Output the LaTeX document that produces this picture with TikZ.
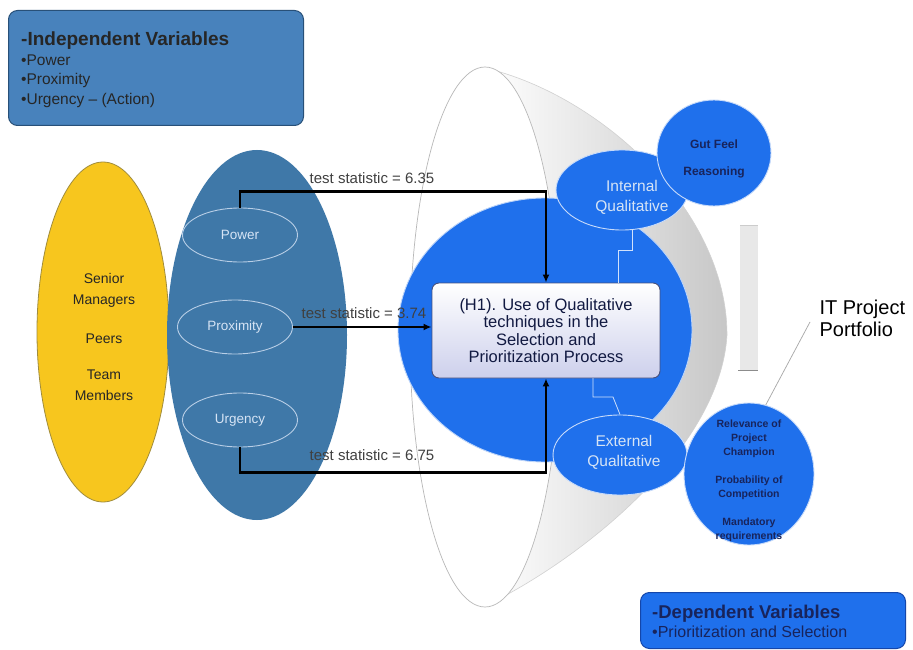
\documentclass[tikz,border=0pt]{standalone}
\usepackage{fontspec}
\setmainfont{Liberation Sans}
\usetikzlibrary{shapes.geometric,arrows.meta,calc}

\definecolor{steel}{RGB}{63,120,168}
\definecolor{indfill}{RGB}{72,130,188}
\definecolor{indline}{RGB}{40,80,120}
\definecolor{vivid}{RGB}{31,112,236}
\definecolor{vividline}{RGB}{20,70,170}
\definecolor{gold}{RGB}{247,198,30}
\definecolor{goldline}{RGB}{160,140,60}
\definecolor{navy}{RGB}{24,36,92}
\definecolor{paletxt}{RGB}{214,228,245}

\tikzset{
  fs/.style 2 args={font=\fontsize{#1}{#2}\selectfont},
  varbox/.style={rounded corners=9pt, line width=1pt, anchor=north west},
  oval/.style={ellipse, inner sep=0pt},
  inneroval/.style={oval, draw=paletxt!80!steel, line width=0.9pt, text=paletxt, fs={13.5}{15}},
  bluedisc/.style={oval, fill=vivid, draw=white!75!vivid, line width=0.9pt, align=center},
  conn/.style={line width=2.2pt, -{Latex[length=8pt,width=7pt]}},
  stat/.style={fs={15}{17}, text=black!75, inner sep=1pt},
  stair/.style={white!80!vivid, line width=0.8pt}
}

\begin{document}
\begin{tikzpicture}[x=1pt,y=-1pt]
\useasboundingbox (0,0) rectangle (913,650);
\fill[white] (0,0) rectangle (913,650);

% funnel body with its rounded far end, and the spout beyond it
\shade[left color=white, right color=black!22, draw=black!18, line width=0.6pt]
  (485,68) .. controls (600,95) and (727,210) .. (727,335)
  .. controls (720,450) and (580,560) .. (485,606) -- cycle;
\fill[black!9] (740,225) rectangle (758,370);
\draw[black!45, line width=1pt] (738,370) -- (758,370);
\draw[black!20, line width=0.6pt] (740,225) -- (758,225);

% funnel mouth
\draw[black!28, fill=white, line width=0.7pt] (485,337) ellipse (75 and 270);

% callout line to the portfolio label
\coordinate (calltip) at (762,412);
\node[fs={20}{22}, align=left, anchor=west] (portfolio) at (816,318) {IT Project\\Portfolio};
\draw[black!35, line width=0.7pt] ($(portfolio.west)+(-6,4)$) -- (calltip);

% central process
\node[oval, fill=vivid, draw=white!70!vivid, line width=0.9pt,
      minimum width=294, minimum height=264] (core) at (545,330) {};

\node[bluedisc, minimum width=132, minimum height=80] (intq) at (622,190) {};
\node[text=paletxt, fs={15.5}{20}, align=center] (intqtxt) at (632,197) {Internal\\Qualitative};
\node[bluedisc, minimum width=114, minimum height=106] (gut) at (714,153) {};
\node[text=navy, fs={12}{27}, align=center] (guttxt) at (714,159)
  {\bfseries Gut Feel\\\bfseries Reasoning};

\node[bluedisc, minimum width=134, minimum height=80] (extq) at (620,455) {};
\node[text=paletxt, fs={15.5}{20}, align=center] (extqtxt) at (624,452) {External\\Qualitative};
\node[bluedisc, minimum width=130, minimum height=142] (ext) at (749,474) {};
\node[text=navy, fs={10.5}{13.8}, align=center] (exttxt) at (749,481)
  {\bfseries Relevance of\\\bfseries Project\\\bfseries Champion\\[14.5pt]
   \bfseries Probability of\\\bfseries Competition\\[14.5pt]
   \bfseries Mandatory\\\bfseries requirements};

% hypothesis box
\node[rounded corners=7pt, draw=navy!80, line width=0.9pt,
      top color=white, bottom color={rgb,255:red,205;green,208;blue,236},
      minimum width=228, minimum height=95, align=center, text=navy!70!black,
      fs={16.5}{17.5}] (h1) at (546,330.5)
  {(H1). Use of Qualitative\\techniques in the\\Selection and\\Prioritization Process};

% stepped links between the qualitative groups and the box
\draw[stair] (632,229) -- (632,250) -- (618,250) -- (618,283);
\draw[stair] (593,378) -- (593,397) -- (613,397) -- (extq.north);

% stakeholder groups
\node[oval, fill=gold, draw=goldline, line width=0.8pt,
      minimum width=132, minimum height=340] (groups) at (103,332) {};
\node[fs={14}{21}, align=center, text=black!85] (grouptxt) at (104,337)
  {Senior\\Managers\\[18pt]Peers\\[15pt]Team\\Members};

% attribute ellipse
\node[oval, fill=steel, minimum width=180, minimum height=370] (attrs) at (257,335) {};
\node[inneroval, minimum width=115, minimum height=54] (power) at (240,235) {Power};
\node[inneroval, minimum width=115, minimum height=54] (prox) at (235,327) {Proximity};
\node[inneroval, minimum width=115, minimum height=54] (urg) at (240,420) {Urgency};

% tested relations
\draw[conn] (power.north) -- ++(0,-16) -| (h1.north);
\draw[conn] (prox.east) -- (prox.east -| h1.west);
\draw[conn] (urg.south) -- ++(0,25) -| (h1.south);

\node[stat] (s1) at (372,178) {test statistic = 6.35};
\node[stat] (s2) at (364,313) {test statistic = 3.74};
\node[stat] (s3) at (372,455) {test statistic = 6.75};

% variable legends
\node[varbox, fill=indfill, draw=indline, minimum width=295, minimum height=115]
  (indep) at (8,10) {};
\node[anchor=north west, align=left, text=black!85, fs={15.5}{19.5}, inner sep=0pt]
  (indeptxt) at (21,32)
  {{\fontsize{19}{19}\selectfont\bfseries -Independent Variables}\\
   •Power\\•Proximity\\•Urgency – (Action)};

\node[varbox, fill=vivid, draw=vividline, minimum width=265, minimum height=56]
  (dep) at (640,592) {};
\node[anchor=north west, align=left, text=navy, fs={16}{19}, inner sep=0pt]
  (deptxt) at (652,605)
  {{\fontsize{18.5}{19}\selectfont\bfseries -Dependent Variables}\\
   •Prioritization and Selection};
\end{tikzpicture}
\end{document}
